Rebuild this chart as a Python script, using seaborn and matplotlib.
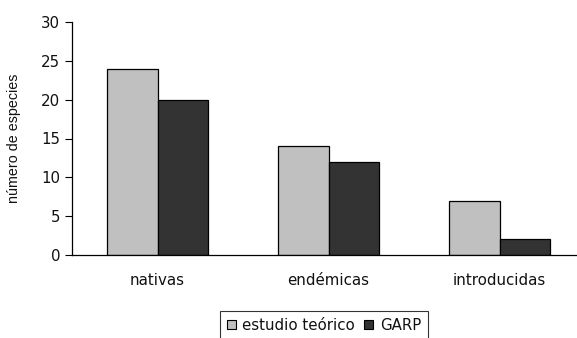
import matplotlib
matplotlib.use("Agg")
import matplotlib.pyplot as plt
import seaborn as sns
import pandas as pd

categorias = ["nativas", "endémicas", "introducidas"]
estudio_teorico = [24, 14, 7]
garp = [20, 12, 2]
series = ["estudio teórico", "GARP"]
colores = ["#C0C0C0", "#333333"]

df = pd.DataFrame({
    "categoria": categorias * 2,
    "valor": estudio_teorico + garp,
    "serie": [series[0]] * len(categorias) + [series[1]] * len(categorias),
})

sns.set_style("white")
plt.rcParams["font.family"] = ["DejaVu Sans"]

W, H = 577, 338
fig = plt.figure(figsize=(W / 100, H / 100), dpi=100)
ax = fig.add_axes([72 / W, 83 / H, 513 / W, 233 / H])

sns.barplot(data=df, x="categoria", y="valor", hue="serie", order=categorias,
            hue_order=series, palette=colores, width=0.585, edgecolor="black",
            linewidth=0.9, saturation=1, ax=ax, legend=True)

ax.set_xlim(-0.5, 2.5)
ax.set_ylim(0, 30)
ax.set_yticks(range(0, 31, 5))
ax.set_xticks(range(len(categorias)))
ax.set_xticklabels(categorias)
ax.set_xticks([-0.5, 0.5, 1.5], minor=True)
ax.tick_params(axis="x", which="major", length=0, pad=13, labelsize=10.8, colors="#111111")
ax.tick_params(axis="x", which="minor", length=5, width=0.8, direction="out", color="black")
ax.tick_params(axis="y", length=5, width=0.8, direction="out", pad=3.5, labelsize=10.8,
               colors="black", labelcolor="#111111", left=True)
ax.set_xlabel("")
ax.set_ylabel("número de especies", fontsize=10.3, family="Liberation Sans", color="#111111")
ax.yaxis.set_label_coords((21 - 72) / 513, 0.5)

for side in ["top", "right"]:
    ax.spines[side].set_visible(False)
for side in ["left", "bottom"]:
    ax.spines[side].set_color("black")
    ax.spines[side].set_linewidth(0.9)

ax.get_legend().remove()
handles = [plt.Rectangle((0, 0), 1, 1, facecolor=c, edgecolor="black", linewidth=0.8)
           for c in colores]
leg = fig.legend(handles, series, loc="upper left",
                 bbox_to_anchor=(220 / W, 1 - 311 / H), ncol=2, fontsize=10.8,
                 frameon=True, fancybox=False, edgecolor="black",
                 handlelength=0.6, handleheight=0.6, handletextpad=0.45,
                 columnspacing=0.6, borderpad=0.45, borderaxespad=0)
leg.get_frame().set_linewidth(0.8)
for t in leg.get_texts():
    t.set_color("#111111")

fig.savefig("out.png", dpi=100)
